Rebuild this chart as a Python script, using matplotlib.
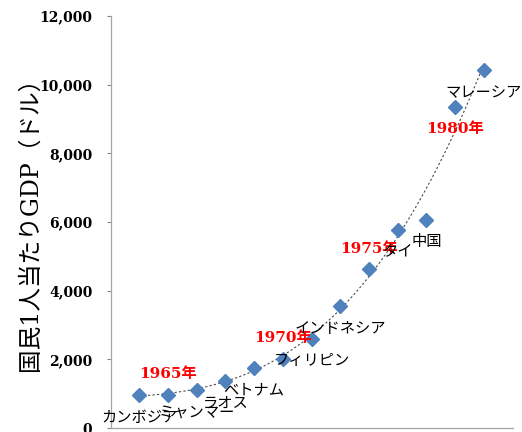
import matplotlib
matplotlib.use("Agg")
from matplotlib import pyplot as plt
import numpy as np

# GDP per capita (USD), ordered from lowest to highest
labels = ["カンボジア", "1965年", "ミャンマー", "ラオス", "ベトナム", "1970年",
          "フィリピン", "インドネシア", "1975年", "タイ", "中国", "1980年", "マレーシア"]
gdp = [960, 970, 1120, 1370, 1750, 2010, 2600, 3550, 4620, 5770, 6070, 9360, 10420]
yticks = [0, 2000, 4000, 6000, 8000, 10000, 12000]

x = np.arange(1, len(gdp) + 1)

fig = plt.figure(figsize=(5.22, 4.32), dpi=100)
ax = fig.add_axes([110.5 / 522, 4 / 432, 402 / 522, 412 / 432])

# polynomial trend line (order 3) over the data range
coef = np.polyfit(x, gdp, 3)
xs = np.linspace(1, 13, 200)
ax.plot(xs, np.polyval(coef, xs), color="#4a4a4a", lw=0.8, ls=(0, (2, 2)), zorder=2)

ax.plot(x, gdp, ls="none", marker="D", markersize=7.5, color="#4f81bd", zorder=3)

above = ["1965年", "1970年", "1975年"]
for xi, yi, lab in zip(x, gdp, labels):
    dy = 15 if lab in above else -16
    if lab.endswith("年"):
        ax.annotate(lab, (xi, yi), xytext=(0, dy), textcoords="offset points",
                    ha="center", va="center", color="red", fontsize=11,
                    fontweight="bold", family=["DejaVu Serif", "Noto Sans CJK JP"])
    else:
        ax.annotate(lab, (xi, yi), xytext=(0, dy), textcoords="offset points",
                    ha="center", va="center", color="black", fontsize=11,
                    family=["Noto Sans CJK JP", "DejaVu Sans"])

ax.set_xlim(0, 14)
ax.set_ylim(0, 12000)
ax.set_xticks([])
ax.set_yticks(yticks)
ax.set_yticklabels([f"{v:,}" for v in yticks], family="DejaVu Serif",
                   fontweight="bold", fontsize=10)
ax.tick_params(axis="y", direction="out", length=3, width=0.8, color="#868686", pad=10)

for side in ["top", "right"]:
    ax.spines[side].set_visible(False)
for side in ["left", "bottom"]:
    ax.spines[side].set_color("#a6a6a6")
    ax.spines[side].set_linewidth(0.9)

ax.set_ylabel("国民1人当たりGDP（ドル）", fontsize=17,
              family=["DejaVu Serif", "Noto Sans CJK JP"])
ax.yaxis.set_label_coords(-0.17, 0.51)

fig.savefig("out.png", dpi=100)
